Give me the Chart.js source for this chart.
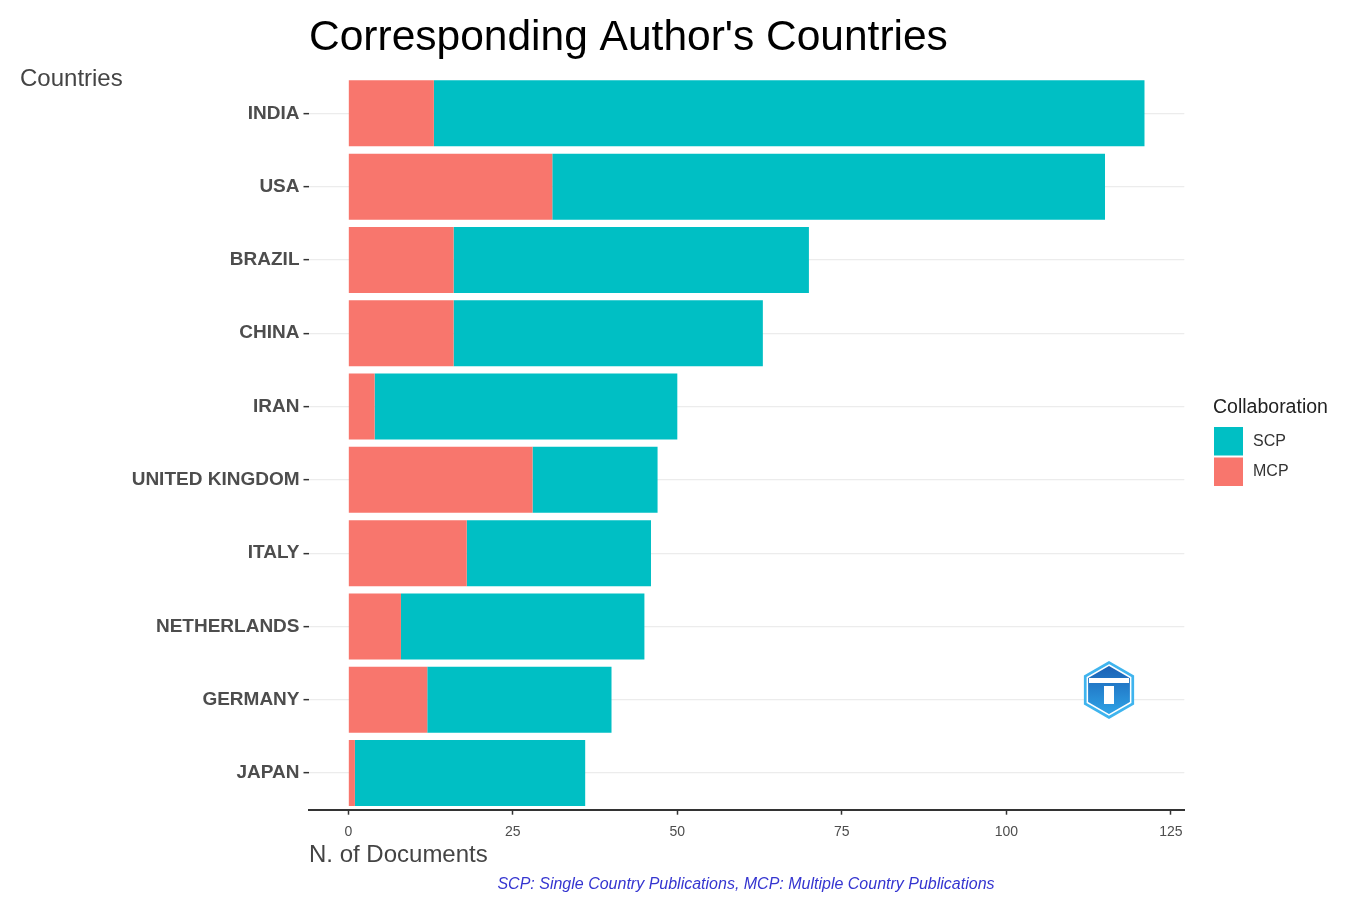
<!DOCTYPE html>
<html>
<head>
<meta charset="utf-8">
<script src="https://cdn.jsdelivr.net/npm/chart.js@4.4.1/dist/chart.umd.min.js"></script>
<style>
  html, body { margin: 0; padding: 0; background: #fff; }
  #wrap { width: 1354px; height: 912px; position: relative; }
</style>
</head>
<body>
<div id="wrap"><canvas id="mycanvas"></canvas></div>
<script>
// data
var countries = ['INDIA', 'USA', 'BRAZIL', 'CHINA', 'IRAN', 'UNITED KINGDOM', 'ITALY', 'NETHERLANDS', 'GERMANY', 'JAPAN'];
var mcp = [13, 31, 16, 16, 4, 28, 18, 8, 12, 1];
var scp = [108, 84, 54, 47, 46, 19, 28, 37, 28, 35];
var xTicks = [0, 25, 50, 75, 100, 125];

var FONT = "'Liberation Sans', Arial, sans-serif";
var RED = '#F8766D';
var TEAL = '#00BFC4';

var totals = [];
for (var i in countries) {
  totals.push(mcp[i] + scp[i]);
}
var maxTotal = Math.max.apply(null, totals);

// titles, legend and logo drawn on top
var decor = {
  id: 'decor',
  afterDraw: function (chart) {
    var c = chart.ctx;
    c.save();
    c.textBaseline = 'middle';

    c.fillStyle = '#000';
    c.font = '42.5px ' + FONT;
    c.textAlign = 'left';
    c.fillText("Corresponding Author's Countries", 309, 38);

    c.fillStyle = '#444';
    c.font = '24px ' + FONT;
    c.fillText('Countries', 20, 79);
    c.fillText('N. of Documents', 309, 855);

    c.fillStyle = '#3535d0';
    c.font = 'italic 16px ' + FONT;
    c.textAlign = 'center';
    c.fillText('SCP: Single Country Publications, MCP: Multiple Country Publications', 746, 885);

    // legend
    c.textAlign = 'left';
    c.fillStyle = '#222';
    c.font = '19.5px ' + FONT;
    c.fillText('Collaboration', 1213, 408);
    var keys = [['SCP', TEAL, 427], ['MCP', RED, 457.5]];
    keys.forEach(function (k) {
      c.fillStyle = k[1];
      c.fillRect(1214, k[2], 29, 28.5);
      c.fillStyle = '#333';
      c.font = '16px ' + FONT;
      c.fillText(k[0], 1253, k[2] + 14.5);
    });

    // small hexagon logo
    var cx = 1109, cy = 690;
    function hex(r) {
      c.beginPath();
      for (var j = 0; j < 6; j++) {
        var a = Math.PI / 3 * j - Math.PI / 2;
        var px = cx + r * Math.cos(a), py = cy + r * Math.sin(a);
        if (j === 0) c.moveTo(px, py); else c.lineTo(px, py);
      }
      c.closePath();
    }
    hex(29);
    c.fillStyle = '#3fb4ee';
    c.fill();
    hex(25);
    var g = c.createLinearGradient(0, cy - 25, 0, cy + 25);
    g.addColorStop(0, '#1a5fb4');
    g.addColorStop(1, '#2fa4e7');
    c.fillStyle = g;
    c.fill();
    c.strokeStyle = '#fff';
    c.lineWidth = 1.5;
    c.stroke();
    c.fillStyle = '#fff';
    c.fillRect(cx - 20, cy - 12, 40, 5);
    c.fillRect(cx - 5, cy - 4, 10, 18);
    c.restore();
  }
};

var chartdata = {
  labels: countries,
  datasets: [
    {
      label: 'MCP',
      backgroundColor: RED,
      data: mcp
    },
    {
      label: 'SCP',
      backgroundColor: TEAL,
      data: scp
    }
  ]
};

var ctx = document.getElementById('mycanvas');

var barGraph = new Chart(ctx, {
  type: 'bar',
  data: chartdata,
  plugins: [decor],
  options: {
    indexAxis: 'y',
    responsive: true,
    maintainAspectRatio: false,
    animation: false,
    devicePixelRatio: 1,
    layout: { padding: { left: 0, right: 169.7, top: 76.7, bottom: 0 } },
    datasets: {
      bar: { barPercentage: 0.9, categoryPercentage: 1.0, borderWidth: 0 }
    },
    plugins: {
      legend: { display: false },
      tooltip: { enabled: false }
    },
    scales: {
      x: {
        type: 'linear',
        stacked: true,
        min: -0.05 * maxTotal,
        max: 1.05 * maxTotal,
        afterFit: function (s) { s.height = 102.3; },
        afterBuildTicks: function (s) {
          s.ticks = xTicks.map(function (v) { return { value: v }; });
        },
        grid: { drawOnChartArea: false, drawTicks: true, tickLength: 5, tickColor: '#333', tickWidth: 1.5 },
        border: { display: true, color: '#333', width: 2 },
        ticks: { color: '#4d4d4d', font: { family: FONT, size: 14 }, padding: 9 }
      },
      y: {
        type: 'category',
        stacked: true,
        offset: true,
        afterFit: function (s) { s.width = 308.5; },
        grid: { offset: false, color: '#ececec', lineWidth: 1.3, drawTicks: true, tickLength: 5, tickColor: '#333', tickWidth: 1.5 },
        border: { display: false },
        ticks: { color: '#4d4d4d', font: { family: FONT, size: 19, weight: 'bold' }, padding: 4 }
      }
    }
  }
});
</script>
</body>
</html>
